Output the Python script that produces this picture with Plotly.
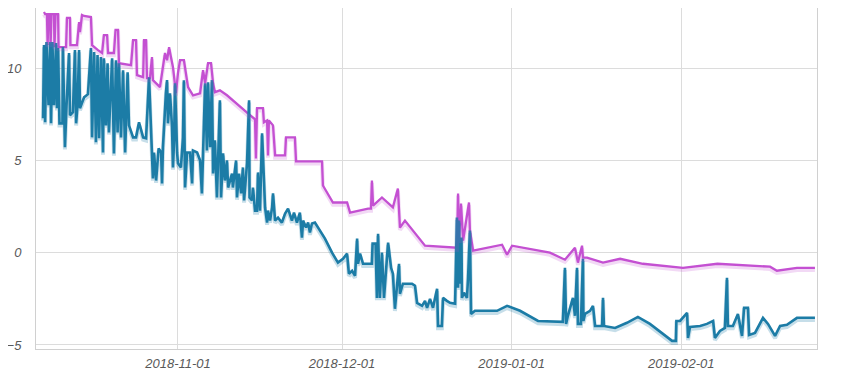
import plotly.graph_objects as go

# ---- data ----
blue_time = [
"2018-10-07 08:00","2018-10-07 12:00","2018-10-07 17:00","2018-10-07 23:00","2018-10-08 08:00","2018-10-08 15:00",
"2018-10-08 19:00","2018-10-09 01:00","2018-10-09 08:00","2018-10-09 17:00","2018-10-09 21:00","2018-10-10 02:00",
"2018-10-10 08:00","2018-10-10 21:00","2018-10-10 23:00","2018-10-11 08:00","2018-10-11 15:00","2018-10-12 02:00",
"2018-10-12 06:00","2018-10-12 19:00","2018-10-13 04:00","2018-10-13 09:00","2018-10-13 15:00","2018-10-13 22:00",
"2018-10-14 02:00","2018-10-14 20:00","2018-10-15 13:00","2018-10-16 02:00","2018-10-16 07:00","2018-10-16 16:00",
"2018-10-17 00:00","2018-10-17 07:00","2018-10-17 14:00","2018-10-17 22:00","2018-10-18 07:00","2018-10-18 11:00",
"2018-10-18 20:00","2018-10-19 03:00","2018-10-19 09:00","2018-10-19 23:00","2018-10-20 07:00","2018-10-20 16:00",
"2018-10-20 23:00","2018-10-21 05:00","2018-10-21 14:00","2018-10-21 23:00","2018-10-22 08:00","2018-10-22 19:00",
"2018-10-23 01:00","2018-10-23 19:00","2018-10-24 08:00","2018-10-24 21:00","2018-10-25 15:00","2018-10-26 04:00",
"2018-10-26 17:00","2018-10-27 02:00","2018-10-27 10:00","2018-10-27 15:00","2018-10-28 00:00","2018-10-28 11:00",
"2018-10-28 22:00","2018-10-29 02:00","2018-10-29 06:00","2018-10-29 19:00","2018-10-30 00:00","2018-10-30 04:00",
"2018-10-30 13:00","2018-10-30 22:00","2018-10-31 02:00","2018-10-31 07:00","2018-10-31 11:00","2018-10-31 20:00",
"2018-11-01 00:00","2018-11-01 13:00","2018-11-01 22:00","2018-11-02 02:00","2018-11-02 07:00","2018-11-02 16:00",
"2018-11-03 05:00","2018-11-03 14:00","2018-11-03 18:00","2018-11-04 12:00","2018-11-05 01:00","2018-11-05 09:00",
"2018-11-05 14:00","2018-11-05 23:00","2018-11-06 07:00","2018-11-06 12:00","2018-11-06 21:00","2018-11-07 05:00",
"2018-11-07 10:00","2018-11-07 18:00","2018-11-08 03:00","2018-11-08 08:00","2018-11-08 16:00","2018-11-08 21:00",
"2018-11-09 06:00","2018-11-09 14:00","2018-11-09 23:00","2018-11-10 04:00","2018-11-10 12:00","2018-11-10 21:00",
"2018-11-11 01:00","2018-11-11 10:00","2018-11-11 15:00","2018-11-11 19:00","2018-11-12 04:00","2018-11-12 13:00",
"2018-11-12 21:00","2018-11-13 02:00","2018-11-13 11:00","2018-11-13 15:00","2018-11-14 00:00","2018-11-14 02:00",
"2018-11-14 13:00","2018-11-14 17:00","2018-11-15 02:00","2018-11-15 11:00","2018-11-15 15:00","2018-11-16 00:00",
"2018-11-16 09:00","2018-11-16 22:00","2018-11-17 07:00","2018-11-17 11:00","2018-11-17 20:00","2018-11-18 05:00",
"2018-11-18 09:00","2018-11-18 18:00","2018-11-19 07:00","2018-11-20 00:00","2018-11-20 14:00","2018-11-21 03:00",
"2018-11-21 20:00","2018-11-22 05:00","2018-11-22 18:00","2018-11-23 07:00","2018-11-23 16:00","2018-11-23 21:00",
"2018-11-24 10:00","2018-11-24 19:00","2018-11-25 03:00","2018-11-25 12:00","2018-11-26 01:00","2018-11-26 14:00",
"2018-11-27 21:00","2018-11-29 04:00","2018-11-30 06:00","2018-12-01 04:00","2018-12-01 22:00","2018-12-02 06:00",
"2018-12-02 20:00","2018-12-03 09:00","2018-12-03 18:00","2018-12-03 22:00","2018-12-04 07:00","2018-12-04 20:00",
"2018-12-06 11:00","2018-12-06 14:00","2018-12-07 03:00","2018-12-07 09:00","2018-12-07 14:00","2018-12-07 22:00",
"2018-12-08 07:00","2018-12-08 16:00","2018-12-09 05:00","2018-12-09 10:00","2018-12-09 23:00","2018-12-10 07:00",
"2018-12-10 16:00","2018-12-11 01:00","2018-12-11 10:00","2018-12-11 14:00","2018-12-11 23:00","2018-12-12 03:00",
"2018-12-13 19:00","2018-12-14 08:00","2018-12-14 17:00","2018-12-15 15:00","2018-12-16 04:00","2018-12-16 13:00",
"2018-12-17 02:00","2018-12-17 15:00","2018-12-18 09:00","2018-12-18 13:00","2018-12-19 06:00","2018-12-19 11:00",
"2018-12-20 04:00","2018-12-20 18:00","2018-12-21 16:00","2018-12-22 00:00","2018-12-22 05:00","2018-12-22 09:00",
"2018-12-22 13:00","2018-12-22 20:00","2018-12-22 22:00","2018-12-23 07:00","2018-12-23 20:00","2018-12-24 01:00",
"2018-12-24 09:00","2018-12-24 14:00","2018-12-25 07:00","2018-12-29 08:00","2018-12-31 04:00","2019-01-02 13:00",
"2019-01-05 20:00","2019-01-10 09:00","2019-01-10 18:00","2019-01-10 23:00","2019-01-11 07:00","2019-01-12 05:00",
"2019-01-12 14:00","2019-01-12 23:00","2019-01-13 03:00","2019-01-13 16:00","2019-01-14 01:00","2019-01-14 03:00",
"2019-01-14 10:00","2019-01-15 08:00","2019-01-15 21:00","2019-01-16 06:00","2019-01-17 13:00","2019-01-17 17:00",
"2019-01-17 21:00","2019-01-19 22:00","2019-01-22 02:00","2019-01-24 02:00","2019-01-26 07:00","2019-01-28 16:00",
"2019-01-30 08:00","2019-01-31 01:00","2019-01-31 03:00","2019-01-31 19:00","2019-02-02 02:00","2019-02-02 06:00",
"2019-02-02 15:00","2019-02-04 11:00","2019-02-05 17:00","2019-02-06 20:00","2019-02-07 04:00","2019-02-08 02:00",
"2019-02-09 00:00","2019-02-09 09:00","2019-02-09 13:00","2019-02-10 11:00","2019-02-11 09:00","2019-02-12 03:00",
"2019-02-12 12:00","2019-02-13 05:00","2019-02-13 10:00","2019-02-14 12:00","2019-02-15 23:00","2019-02-16 21:00",
"2019-02-18 04:00","2019-02-19 02:00","2019-02-20 08:00","2019-02-22 04:00","2019-02-25 11:00",
]
blue_value = [
7.28,11.25,7.07,11.41,7.99,11.41,
7.01,11.41,7.99,11.36,7.83,11.09,
7.01,7.01,11.14,5.71,7.99,10.82,
7.45,7.61,10.98,7.01,7.99,10.98,
7.83,8.42,8.59,11.09,6.25,10.87,
5.98,10.71,6.20,10.60,5.43,10.54,
6.90,10.27,6.52,10.54,5.38,10.43,
6.52,10.27,6.25,9.89,5.43,9.78,
6.90,6.25,6.25,7.07,6.25,6.20,
9.51,6.20,4.02,5.43,3.91,5.65,
5.43,3.75,5.71,8.64,9.35,7.01,
8.64,6.79,4.62,6.09,9.18,5.43,
4.84,4.62,6.25,9.35,3.53,5.43,
5.43,3.75,5.54,5.43,5.00,3.21,
5.92,9.18,5.54,9.24,5.71,9.35,
4.29,6.09,2.99,5.16,8.26,2.99,
5.38,3.91,5.00,3.53,3.91,4.29,
3.53,4.62,5.00,2.99,4.29,3.21,
4.62,2.83,4.08,4.84,8.26,2.99,
2.83,3.53,2.28,2.28,4.35,2.28,
6.47,2.45,1.63,2.28,1.74,2.45,
3.21,1.74,1.90,1.63,2.12,2.39,
1.74,2.17,1.63,2.17,0.82,1.74,
1.36,1.63,1.09,1.58,1.63,1.36,
0.76,0.00,-0.54,-0.33,-0.05,-1.14,
-0.98,-1.25,0.76,-0.60,-0.05,-0.60,
-0.60,0.49,0.49,-2.45,1.03,-2.45,
0.00,-2.45,-0.60,0.54,-0.82,-1.14,
-3.04,-1.68,-0.60,-2.23,-1.90,-1.68,
-1.68,-1.79,-2.72,-2.88,-2.61,-2.99,
-2.50,-2.99,-1.96,-3.97,-3.97,-2.45,
-2.61,-2.72,-2.77,1.90,-1.90,1.74,
-1.68,0.82,-2.45,-2.17,-2.45,-1.36,
1.20,-3.32,-3.15,-3.15,-2.88,-3.15,
-3.70,-3.75,-0.82,-3.86,-3.42,-2.45,
-3.42,-0.82,-3.86,-3.86,-0.33,-3.70,
-3.32,-3.15,-2.88,-3.97,-3.97,-2.45,
-3.97,-4.08,-3.80,-3.48,-3.86,-4.40,
-4.78,-4.78,-3.70,-3.70,-3.26,-4.62,
-4.02,-3.97,-3.86,-3.70,-4.62,-4.24,
-4.08,-1.36,-3.97,-3.97,-3.32,-4.51,
-2.99,-2.99,-4.46,-4.35,-3.53,-3.86,
-4.51,-3.97,-3.91,-3.53,-3.53,
]

magenta_time = [
"2018-10-07 12:00","2018-10-07 17:00","2018-10-08 01:00","2018-10-08 04:00","2018-10-08 08:00","2018-10-08 15:00",
"2018-10-08 17:00","2018-10-08 21:00","2018-10-09 08:00","2018-10-09 10:00","2018-10-09 15:00","2018-10-10 02:00",
"2018-10-10 04:00","2018-10-11 13:00","2018-10-11 17:00","2018-10-12 06:00","2018-10-12 08:00","2018-10-13 13:00",
"2018-10-13 22:00","2018-10-14 02:00","2018-10-14 11:00","2018-10-14 20:00","2018-10-16 02:00","2018-10-16 07:00",
"2018-10-17 09:00","2018-10-18 03:00","2018-10-18 11:00","2018-10-19 01:00","2018-10-19 05:00","2018-10-20 07:00",
"2018-10-20 14:00","2018-10-21 01:00","2018-10-21 05:00","2018-10-23 10:00","2018-10-23 19:00","2018-10-24 08:00",
"2018-10-24 12:00","2018-10-25 15:00","2018-10-25 19:00","2018-10-26 04:00","2018-10-26 08:00","2018-10-26 21:00",
"2018-10-27 06:00","2018-10-27 10:00","2018-10-28 17:00","2018-10-29 15:00","2018-10-30 00:00","2018-10-30 09:00",
"2018-10-30 17:00","2018-10-31 02:00","2018-10-31 07:00","2018-10-31 15:00","2018-11-01 00:00","2018-11-01 09:00",
"2018-11-02 02:00","2018-11-02 11:00","2018-11-02 20:00","2018-11-03 18:00","2018-11-05 01:00","2018-11-05 14:00",
"2018-11-05 23:00","2018-11-06 12:00","2018-11-07 01:00","2018-11-07 10:00","2018-11-07 18:00","2018-11-08 16:00",
"2018-11-09 23:00","2018-11-13 19:00","2018-11-15 02:00","2018-11-15 06:00","2018-11-15 11:00","2018-11-16 13:00",
"2018-11-16 17:00","2018-11-17 07:00","2018-11-17 11:00","2018-11-17 15:00","2018-11-18 09:00","2018-11-18 18:00",
"2018-11-20 14:00","2018-11-20 18:00","2018-11-22 09:00","2018-11-22 14:00","2018-11-27 08:00","2018-11-27 12:00",
"2018-11-29 08:00","2018-12-01 22:00","2018-12-02 11:00","2018-12-05 18:00","2018-12-06 07:00","2018-12-06 11:00",
"2018-12-06 16:00","2018-12-08 07:00","2018-12-10 07:00","2018-12-11 05:00","2018-12-11 14:00","2018-12-12 12:00",
"2018-12-16 04:00","2018-12-22 00:00","2018-12-22 05:00","2018-12-22 09:00","2018-12-22 18:00","2018-12-23 03:00",
"2018-12-24 05:00","2018-12-24 09:00","2018-12-24 23:00","2018-12-30 06:00","2018-12-31 04:00","2019-01-01 02:00",
"2019-01-08 00:00","2019-01-10 18:00","2019-01-12 14:00","2019-01-13 03:00","2019-01-13 21:00","2019-01-14 01:00",
"2019-01-14 19:00","2019-01-17 17:00","2019-01-20 20:00","2019-01-25 00:00","2019-02-01 08:00","2019-02-07 15:00",
"2019-02-17 06:00","2019-02-18 12:00","2019-02-22 04:00","2019-02-25 11:00",
]
magenta_value = [
13.04,12.93,12.93,11.25,12.93,12.93,
11.25,12.93,12.93,11.14,12.93,12.93,
11.14,11.14,12.72,12.72,11.25,11.25,
12.50,11.96,12.88,12.83,12.77,11.25,
10.98,10.82,11.79,11.79,10.82,10.82,
12.07,12.07,10.27,10.16,11.52,11.52,
9.62,9.51,11.52,11.52,9.46,9.46,
10.60,9.35,8.97,10.82,10.43,11.14,
10.60,10.05,9.51,8.64,9.73,10.43,
10.43,9.73,8.97,8.53,8.64,9.89,
9.18,10.27,10.27,9.18,8.70,8.80,
8.53,7.55,7.23,5.11,7.83,7.83,
7.07,7.17,5.27,7.17,6.90,5.27,
5.27,6.25,6.25,4.95,4.95,3.64,
2.72,2.72,2.17,2.39,2.39,3.91,
2.55,2.99,2.45,3.48,1.36,1.74,
0.38,0.27,3.21,0.65,2.66,0.65,
2.72,1.20,0.11,0.43,-0.11,0.38,
0.00,-0.38,0.27,-0.54,0.38,-0.27,
-0.27,-0.54,-0.33,-0.60,-0.82,-0.60,
-0.76,-0.98,-0.82,-0.82,
]

x_ticks = ["2018-11-01", "2018-12-01", "2019-01-01", "2019-02-01"]
y_ticks = [-5, 0, 5, 10]
x_range = ["2018-10-06 01:00", "2019-02-25 20:00"]
y_range = [-5.22, 13.26]

MAGENTA = "#c450d2"
BLUE = "#1c7ca6"
shadow_shift = 0.12  # data units (~2px) for the drop shadow axis

fig = go.Figure()
# drop shadows (drawn on a hidden, slightly shifted overlay axis)
fig.add_trace(go.Scatter(x=magenta_time, y=magenta_value, mode="lines", yaxis="y2",
                         line=dict(color="rgba(196,80,210,0.22)", width=4), hoverinfo="skip"))
fig.add_trace(go.Scatter(x=blue_time, y=blue_value, mode="lines", yaxis="y2",
                         line=dict(color="rgba(28,124,166,0.25)", width=4), hoverinfo="skip"))
fig.add_trace(go.Scatter(x=magenta_time, y=magenta_value, mode="lines",
                         line=dict(color=MAGENTA, width=2.3)))
fig.add_trace(go.Scatter(x=blue_time, y=blue_value, mode="lines",
                         line=dict(color=BLUE, width=2.6)))

tickfont = dict(family="Liberation Sans, Arial, sans-serif", size=13, color="#595959", style="italic")

# the page body has an 8px default margin, so the figure is sized to sit inside it
fig.update_layout(
    width=842, height=367,
    margin=dict(l=28, r=33, t=0, b=26),
    paper_bgcolor="white", plot_bgcolor="white",
    showlegend=False,
    xaxis=dict(type="date", range=x_range, tickvals=x_ticks, ticktext=x_ticks,
               showgrid=True, gridcolor="#dcdcdc", gridwidth=1,
               showline=True, linecolor="#d0d0d0", linewidth=1, mirror=True,
               zeroline=False, tickfont=tickfont, ticks="", ticklabelstandoff=2,
               automargin=False),
    yaxis=dict(range=y_range, tickvals=y_ticks, showgrid=True, gridcolor="#dcdcdc", gridwidth=1,
               showline=True, linecolor="#d0d0d0", linewidth=1, mirror=True,
               zeroline=False, tickfont=tickfont, ticks="", ticklabelstandoff=11,
               automargin=False),
    yaxis2=dict(range=[y_range[0] + shadow_shift, y_range[1] + shadow_shift],
                overlaying="y", visible=False, showgrid=False),
)

fig.write_html("out.html")
